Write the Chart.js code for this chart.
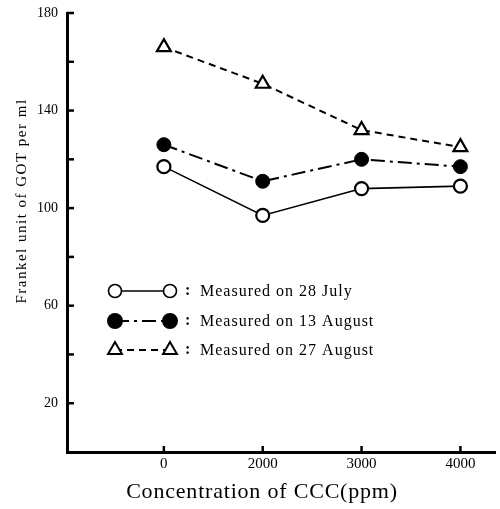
<!DOCTYPE html>
<html>
<head>
<meta charset="utf-8">
<script src="https://cdn.jsdelivr.net/npm/chart.js@4.4.1/dist/chart.umd.min.js"></script>
<style>
  html, body { margin: 0; padding: 0; background: #fff; }
  #wrap { width: 500px; height: 509px; }
</style>
</head>
<body>
<div id="wrap"><canvas id="mainChart"></canvas></div>
<script>
// CCC concentrations on the x axis (evenly spaced categories)
const categories = ['0', '2000', '3000', '4000'];
// Frankel unit of GOT per ml
const july28 = [117, 97, 108, 109];
const aug13 = [126, 111, 120, 117];
const aug27 = [166, 151, 132, 125];
const seriesNames = ['Measured on 28 July', 'Measured on 13 August', 'Measured on 27 August'];
const yTickValues = [20, 40, 60, 80, 100, 120, 140, 160, 180];
const yTickLabels = { 20: '20', 60: '60', 100: '100', 140: '140', 180: '180' };

const serif = '"Liberation Serif", "DejaVu Serif", serif';
const toPoints = (arr) => arr.map((v, i) => ({ x: i, y: v }));

// ticks drawn inward, legend and axis titles drawn like the scan
const paperPlugin = {
  id: 'paper',
  afterDraw(chart) {
    const { ctx, scales: { x, y } } = chart;
    ctx.save();
    ctx.strokeStyle = '#000';
    ctx.lineWidth = 2.5;
    y.ticks.forEach((t) => {
      const py = y.getPixelForValue(t.value);
      ctx.beginPath();
      ctx.moveTo(x.left, py);
      ctx.lineTo(x.left + 7, py);
      ctx.stroke();
    });
    x.ticks.forEach((t) => {
      const px = x.getPixelForValue(t.value);
      ctx.beginPath();
      ctx.moveTo(px, y.bottom);
      ctx.lineTo(px, y.bottom - 6);
      ctx.stroke();
    });

    // legend
    const rows = [291, 321, 350];
    chart.data.datasets.forEach((ds, i) => {
      const ly = rows[i];
      const x1 = 115, x2 = 170;
      ctx.lineWidth = ds.borderWidth;
      ctx.setLineDash(ds.borderDash || []);
      ctx.beginPath();
      ctx.moveTo(x1, ly);
      ctx.lineTo(x2, ly);
      ctx.stroke();
      ctx.setLineDash([]);
      ctx.fillStyle = ds.pointBackgroundColor;
      ctx.strokeStyle = '#000';
      [x1, x2].forEach((px) => {
        Chart.helpers.drawPoint(ctx, {
          pointStyle: ds.pointStyle, radius: ds.pointRadius, rotation: 0,
          borderWidth: ds.pointBorderWidth,
        }, px, ly);
      });
      ctx.fillStyle = '#000';
      ctx.textBaseline = 'middle';
      ctx.textAlign = 'left';
      ctx.font = 'bold 16px ' + serif;
      ctx.fillText(':', 185, ly);
      ctx.font = '16px ' + serif;
      ctx.letterSpacing = '1px';
      ctx.fillText(seriesNames[i], 200, ly + 1);
      ctx.letterSpacing = '0px';
    });

    // x axis title
    ctx.font = '22px ' + serif;
    ctx.letterSpacing = '0.8px';
    ctx.textAlign = 'center';
    ctx.textBaseline = 'middle';
    ctx.fillText('Concentration of CCC(ppm)', 262, 492);

    // y axis title
    ctx.letterSpacing = '1.5px';
    ctx.translate(22, 201);
    ctx.rotate(-Math.PI / 2);
    ctx.font = '15px ' + serif;
    ctx.fillText('Frankel unit of GOT per ml', 0, 0);
    ctx.restore();
  },
};

new Chart(document.getElementById('mainChart'), {
  type: 'line',
  data: {
    datasets: [{
      label: seriesNames[0],
      data: toPoints(july28),
      borderColor: '#000',
      borderWidth: 1.6,
      pointStyle: 'circle',
      pointRadius: 6.5,
      pointBorderWidth: 2.2,
      pointBackgroundColor: '#fff',
      pointBorderColor: '#000',
    }, {
      label: seriesNames[1],
      data: toPoints(aug13),
      borderColor: '#000',
      borderWidth: 2,
      borderDash: [14, 5, 3, 5],
      pointStyle: 'circle',
      pointRadius: 7,
      pointBorderWidth: 1,
      pointBackgroundColor: '#000',
      pointBorderColor: '#000',
    }, {
      label: seriesNames[2],
      data: toPoints(aug27),
      borderColor: '#000',
      borderWidth: 2,
      borderDash: [7, 5],
      pointStyle: 'triangle',
      pointRadius: 8,
      pointBorderWidth: 2.2,
      pointBackgroundColor: '#fff',
      pointBorderColor: '#000',
    }],
  },
  options: {
    responsive: true,
    maintainAspectRatio: false,
    animation: false,
    layout: { autoPadding: false, padding: { top: 13, right: 5, bottom: 33, left: 16 } },
    plugins: {
      legend: { display: false },
      tooltip: { enabled: false },
    },
    scales: {
      x: {
        type: 'linear',
        min: -0.98,
        max: 3.35,
        afterBuildTicks: (s) => { s.ticks = categories.map((c, i) => ({ value: i })); },
        afterFit: (s) => { s.paddingLeft = 0; s.paddingRight = 0; },
        grid: { drawOnChartArea: false, drawTicks: false },
        border: { color: '#000', width: 3 },
        ticks: {
          color: '#000',
          padding: 3,
          font: { family: serif, size: 15 },
          callback: (v) => categories[v],
        },
      },
      y: {
        min: 0,
        max: 180,
        afterBuildTicks: (s) => { s.ticks = yTickValues.map((v) => ({ value: v })); },
        afterFit: (s) => { s.width = 51; s.paddingTop = 0; s.paddingBottom = 0; },
        grid: { drawOnChartArea: false, drawTicks: false },
        border: { color: '#000', width: 3 },
        ticks: {
          color: '#000',
          padding: 9,
          font: { family: serif, size: 14 },
          callback: (v) => yTickLabels[v] || '',
        },
      },
    },
  },
  plugins: [paperPlugin],
});
</script>
</body>
</html>
